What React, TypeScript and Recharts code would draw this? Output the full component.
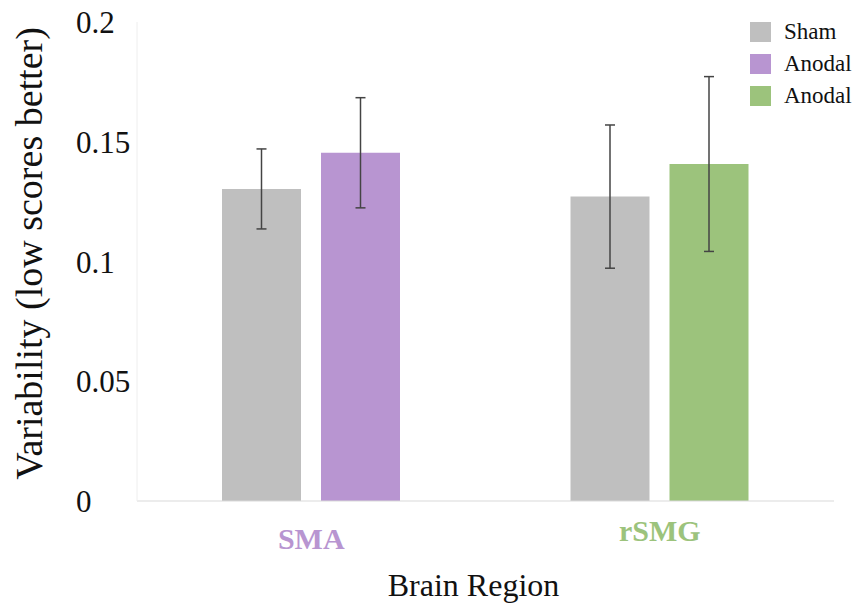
import { BarChart, Bar, XAxis, YAxis, Cell, ErrorBar, Label } from 'recharts';

// values
const regions = ['SMA', 'rSMG'];
const shamMeans = [0.1303, 0.1271];
const shamErrors = [0.0167, 0.0299];
const anodalMeans = [0.1454, 0.1407];
const anodalErrors = [0.023, 0.0365];
const yTicks = [0, 0.05, 0.1, 0.15, 0.2];

const GRAY = '#BFBFBF';
const PURPLE = '#B895D1';
const GREEN = '#9CC37C';
const regionColors = [PURPLE, GREEN];
const tickDy = [40, 32];

const legendItems = [
  { name: 'Sham', color: GRAY },
  { name: 'Anodal', color: PURPLE },
  { name: 'Anodal', color: GREEN },
];

const serif = '"Liberation Serif", "Times New Roman", serif';

const data = regions.map((region, i) => ({
  region,
  sham: shamMeans[i],
  shamErr: shamErrors[i],
  anodal: anodalMeans[i],
  anodalErr: anodalErrors[i],
}));

function YTick(props: any) {
  const { y, payload } = props;
  return (
    <text x={76} y={y} dy={11} textAnchor="start" fontFamily={serif} fontSize={31} fill="#111">
      {String(payload.value)}
    </text>
  );
}

function XTick(props: any) {
  const { x, y, payload, index } = props;
  return (
    <text x={x} y={y} dy={tickDy[index % tickDy.length]} textAnchor="middle" fontFamily={serif}
      fontWeight="bold" fontSize={30} fill={regionColors[index % regionColors.length]}>
      {payload.value}
    </text>
  );
}

function ChartLegend() {
  return (
    <div style={{ position: 'absolute', left: 750, top: 16, fontFamily: serif, fontSize: 23, color: '#111' }}>
      {legendItems.map((item, i) => (
        <div key={i} style={{ display: 'flex', alignItems: 'center', height: 32 }}>
          <span style={{ display: 'inline-block', width: 21, height: 20, background: item.color, marginRight: 13 }} />
          <span>{item.name}</span>
        </div>
      ))}
    </div>
  );
}

export default function App() {
  return (
    <div style={{ position: 'absolute', left: 0, top: 0, width: 854, height: 605, background: '#fff' }}>
      <BarChart
        width={854}
        height={605}
        data={data}
        margin={{ top: 22, right: 20, bottom: 0, left: 0 }}
        barGap={20}
        barSize={79}
      >
        <XAxis
          dataKey="region"
          height={104}
          stroke="#d9d9d9"
          tickLine={false}
          tick={<XTick />}
        >
          <Label
            content={(p: any) => {
              const cx = p.viewBox.x + p.viewBox.width / 2 - 12;
              return (
                <text x={cx} y={596} textAnchor="middle" fontFamily={serif} fontSize={32} fill="#111">
                  Brain Region
                </text>
              );
            }}
          />
        </XAxis>
        <YAxis
          width={137}
          domain={[0, 0.2]}
          ticks={yTicks}
          stroke="#eeeeee"
          tickLine={false}
          tick={<YTick />}
        >
          <Label
            content={(p: any) => {
              const cy = p.viewBox.y + p.viewBox.height / 2 - 8;
              return (
                <text x={42} y={cy} transform={`rotate(-90, 42, ${cy})`} textAnchor="middle"
                  fontFamily={serif} fontSize={38} fill="#111">
                  Variability (low scores better)
                </text>
              );
            }}
          />
        </YAxis>
        <Bar dataKey="sham" fill={GRAY} isAnimationActive={false}>
          <ErrorBar dataKey="shamErr" width={5} stroke="#444" strokeWidth={1.5} />
        </Bar>
        <Bar dataKey="anodal" isAnimationActive={false}>
          {data.map((d, i) => (
            <Cell key={d.region} fill={regionColors[i % regionColors.length]} />
          ))}
          <ErrorBar dataKey="anodalErr" width={5} stroke="#444" strokeWidth={1.5} />
        </Bar>
      </BarChart>
      <ChartLegend />
    </div>
  );
}
